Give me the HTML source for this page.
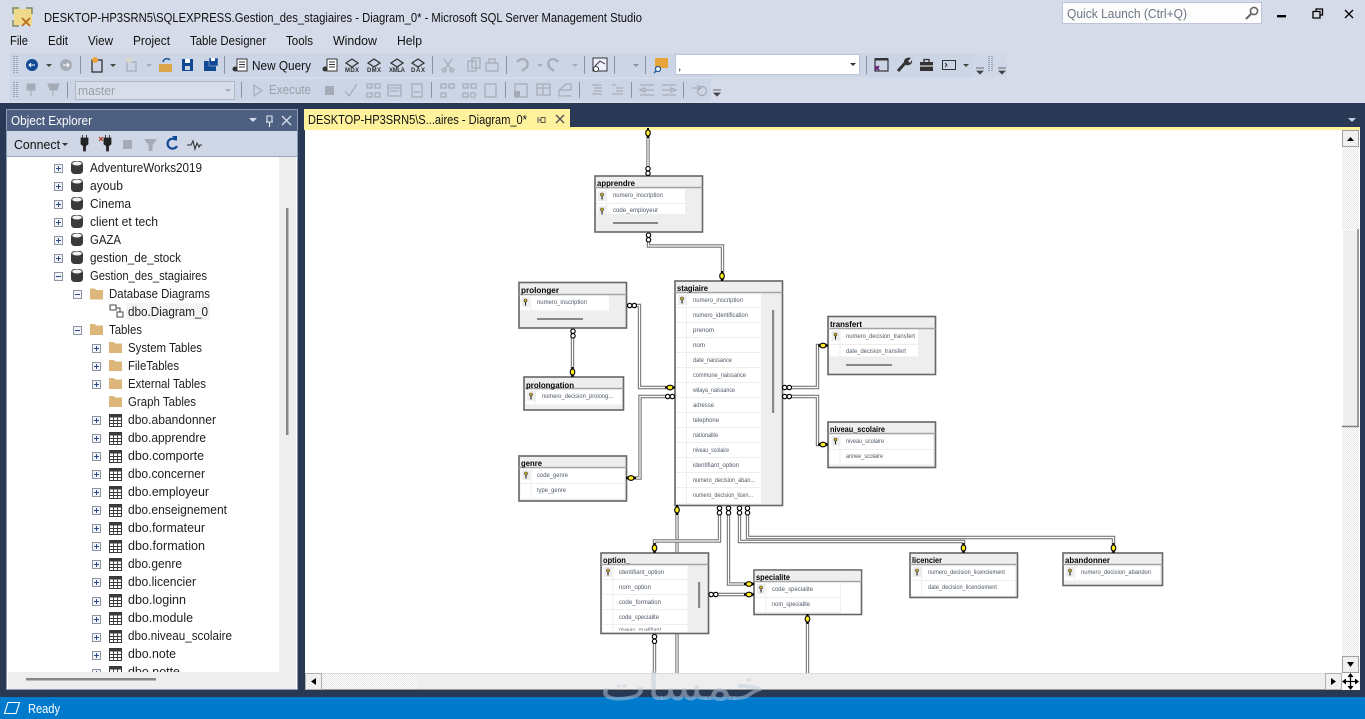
<!DOCTYPE html>
<html><head><meta charset="utf-8"><style>
html,body{margin:0;padding:0;background:#d6dbe9;overflow:hidden}
svg{display:block;font-family:"Liberation Sans",sans-serif}
.u{font-size:12.5px;fill:#1e1e1e}
.g{font-size:12.5px;fill:#9aa0aa}
.t{font-size:12.5px;fill:#111}
.h{font-size:8.5px;font-weight:bold;fill:#000}
.c{font-size:6.6px;fill:#4f5a66}
.r{fill:#fff}
.o{fill:none;stroke:#777;stroke-width:3.4}
.i{fill:none;stroke:#fff;stroke-width:1.2}
.tb{stroke:#666;stroke-width:1.6}
.hs{stroke:#a4a4a4;stroke-width:1.4}
.sep{stroke:#8a93a5;stroke-width:1}
.ic{fill:none;stroke:#a8adb8;stroke-width:1.3}
.id{fill:none;stroke:#333;stroke-width:1.3}
</style></head><body>
<svg width="1365" height="719" viewBox="0 0 1365 719" xmlns="http://www.w3.org/2000/svg">
<defs>
<clipPath id="tree"><rect x="8" y="159" width="271" height="513"/></clipPath>
<clipPath id="optclip"><rect x="602" y="625" width="86" height="5.500"/></clipPath>
<g id="pl"><rect x="-3.500" y="-3.500" width="8" height="8" fill="#f3f4f8" stroke="#8d94a3"/><path d="M-2 .5H3M.5 -2V3" stroke="#2c4a86" stroke-width="1"/></g>
<g id="mi"><rect x="-3.500" y="-3.500" width="8" height="8" fill="#f3f4f8" stroke="#8d94a3"/><path d="M-2 .5H3" stroke="#2c4a86" stroke-width="1"/></g>
<g id="db"><rect x="0" y="-6.500" width="12" height="13" rx="3.500" fill="#3a3a3a"/><ellipse cx="6" cy="-4" rx="4.800" ry="2" fill="#f1f1f1"/></g>
<g id="fo"><path d="M0-5.500H5L6-4H13V5.500H0Z" fill="#dcb67a"/></g>
<g id="tbl"><rect x=".5" y="-5.500" width="12" height="12" fill="#fff" stroke="#3a3a3a"/><rect x="0" y="-6" width="13" height="3.500" fill="#3a3a3a"/><path d="M4.500 -3V6M8.500 -3V6M0 0.500H13M0 3.500H13" stroke="#3a3a3a" stroke-width=".9"/></g>
<g id="kk"><rect x="-4" y="-5" width="8" height="10" fill="#ededed"/><circle cx="0" cy="-1.500" r="1.500" fill="#e8b820" stroke="#222" stroke-width=".6"/><path d="M0 0V3.500" stroke="#222" stroke-width="1.100"/></g>
<g id="inf"><circle cx="-2.300" cy="0" r="2.200" fill="#fff" stroke="#000" stroke-width="1.100"/><circle cx="2.300" cy="0" r="2.200" fill="#fff" stroke="#000" stroke-width="1.100"/></g>
<g id="key"><ellipse cx="0" cy="0" rx="3" ry="2.300" fill="#ffee22" stroke="#000" stroke-width="1.100"/><path d="M3 0H5M-5 0H-3" stroke="#000" stroke-width="2"/></g>
<pattern id="dith" width="2" height="2" patternUnits="userSpaceOnUse"><rect width="2" height="2" fill="#fff"/><rect width="1" height="1" fill="#e6e6e6"/><rect x="1" y="1" width="1" height="1" fill="#e6e6e6"/></pattern>
</defs>

<rect width="1365" height="719" fill="#d6dbe9"/>

<!-- title bar -->
<rect x="14" y="9" width="18" height="16" fill="#efd98a"/><path d="M13 14V8H19M26 8H32V14M13 20V26H19" fill="none" stroke="#6b7a40" stroke-width="1.200"/><path d="M22 18L30 26M30 18L22 26" stroke="#b86a20" stroke-width="1.600"/>
<text x="44" y="22" class="t" textLength="598" lengthAdjust="spacingAndGlyphs">DESKTOP-HP3SRN5\SQLEXPRESS.Gestion_des_stagiaires - Diagram_0* - Microsoft SQL Server Management Studio</text>
<rect x="1062.500" y="2.500" width="199" height="21" fill="#fdfdfe" stroke="#bcc5d8"/>
<text x="1067" y="18" font-size="12.500" fill="#6d7480" textLength="120" lengthAdjust="spacingAndGlyphs">Quick Launch (Ctrl+Q)</text>
<circle cx="1254" cy="11" r="3.600" fill="none" stroke="#666" stroke-width="1.600"/><path d="M1251 14L1246 19" stroke="#666" stroke-width="2"/>
<rect x="1277" y="15" width="9" height="2.400" fill="#000"/>
<path d="M1313 11.500H1320V18H1313ZM1316 11V9H1322.500V15H1320" fill="none" stroke="#000" stroke-width="1.300"/>
<path d="M1345 10L1353 18M1353 10L1345 18" stroke="#000" stroke-width="1.300"/>

<!-- menu -->
<text x="10" y="45" class="t" textLength="18" lengthAdjust="spacingAndGlyphs">File</text>
<text x="48" y="45" class="t" textLength="20" lengthAdjust="spacingAndGlyphs">Edit</text>
<text x="88" y="45" class="t" textLength="25" lengthAdjust="spacingAndGlyphs">View</text>
<text x="133" y="45" class="t" textLength="37" lengthAdjust="spacingAndGlyphs">Project</text>
<text x="190" y="45" class="t" textLength="76" lengthAdjust="spacingAndGlyphs">Table Designer</text>
<text x="286" y="45" class="t" textLength="27" lengthAdjust="spacingAndGlyphs">Tools</text>
<text x="333" y="45" class="t" textLength="44" lengthAdjust="spacingAndGlyphs">Window</text>
<text x="397" y="45" class="t" textLength="25" lengthAdjust="spacingAndGlyphs">Help</text>

<!-- toolbars -->
<rect x="10" y="53" width="963" height="24" fill="#ccd5e6"/>
<rect x="973" y="53" width="34" height="24" fill="#d0d8e8"/>
<rect x="10" y="79" width="701" height="22" fill="#ccd5e6"/>
<path d="M14 56V74M17 56V74M14 82V98M17 82V98M989 56V72M992 56V72" stroke="#8a93a5" stroke-width="1.500" stroke-dasharray="1 1"/>
<path d="M998 68H1006M999 71H1005L1002 74Z" fill="#444" stroke="#444" stroke-width=".8"/>
<path d="M976 68H984M977 71H983L980 74Z" fill="#444" stroke="#444" stroke-width=".8"/>
<path d="M713 90H721M714 93H720L717 96Z" fill="#444" stroke="#444" stroke-width=".8"/>
<circle cx="32" cy="65" r="6" fill="#114a94"/><path d="M35 65H29M31 63L29 65L31 67" stroke="#fff" fill="none"/>
<path d="M46 64H52L49 67Z" fill="#444"/>
<circle cx="66" cy="65" r="6" fill="#a7adb9"/><path d="M63 65H69M67 63L69 65L67 67" stroke="#fff" fill="none"/>
<path d="M80.500 56V74M224.500 56V74M432.500 56V74M506.500 56V74M584.500 56V74M614.500 56V74M645.500 56V74M866.500 56V74" class="sep"/>
<rect x="92" y="60" width="10" height="12" class="id"/><circle cx="95" cy="60" r="3" fill="#e8a33a"/>
<path d="M110 64H116L113 67Z" fill="#444"/>
<rect x="127" y="62" width="9" height="9" class="ic"/><circle cx="129" cy="60" r="3" fill="#d8d8c8"/>
<path d="M146 64H152L149 67Z" fill="#a5abb6"/>
<path d="M159 64H172V72H159Z" fill="#dba64c"/><path d="M163 62C164 58 168 58 170 60" fill="none" stroke="#1f5c9c" stroke-width="1.600"/>
<path d="M182 59H193V71H182Z" fill="#114a94"/><rect x="185" y="59" width="5" height="4" fill="#fff"/><rect x="185" y="66" width="5" height="4" fill="#ccd5e6"/>
<path d="M204 61H216V71H204Z" fill="#114a94"/><path d="M209 58H218V66H209Z" fill="#114a94" stroke="#ccd5e6" stroke-width=".5"/><rect x="211" y="58" width="4" height="3" fill="#fff"/>
<rect x="237" y="59" width="10" height="12" fill="#fff" stroke="#333"/><path d="M239 62H245M239 64.500H245M239 67H245" stroke="#333"/><circle cx="235" cy="69" r="2.500" fill="#333"/>
<text x="252" y="70" class="t" textLength="59" lengthAdjust="spacingAndGlyphs">New Query</text>
<rect x="327" y="59" width="10" height="12" fill="#fff" stroke="#333"/><path d="M329 62H335M329 64.500H335M329 67H335" stroke="#333"/><circle cx="325" cy="69" r="2.500" fill="#333"/>
<path d="M346 63L352 59L358 63L352 67Z" class="id"/><text x="345" y="72" font-size="6" font-weight="bold" fill="#333" textLength="14">MDX</text>
<path d="M368 63L374 59L380 63L374 67Z" class="id"/><text x="367" y="72" font-size="6" font-weight="bold" fill="#333" textLength="14">DMX</text>
<path d="M391 63L397 59L403 63L397 67Z" class="id"/><text x="389" y="72" font-size="6" font-weight="bold" fill="#333" textLength="16">XMLA</text>
<path d="M412 63L418 59L424 63L418 67Z" class="id"/><text x="411" y="72" font-size="6" font-weight="bold" fill="#333" textLength="14">DAX</text>
<path d="M444 59L452 71M452 59L444 71" class="ic"/><circle cx="444" cy="70" r="2" class="ic"/><circle cx="452" cy="70" r="2" class="ic"/>
<rect x="468" y="61" width="8" height="10" class="ic"/><rect x="472" y="58" width="8" height="10" class="ic"/>
<rect x="486" y="63" width="12" height="8" class="ic"/><path d="M489 63V59H495V63" class="ic"/>
<path d="M517 62C522 56 530 60 527 67L522 71" fill="none" stroke="#a8adb8" stroke-width="2.400"/>
<path d="M537 64H543L540 67Z" fill="#a5abb6"/>
<path d="M558 62C553 56 546 60 549 67L554 71" fill="none" stroke="#a8adb8" stroke-width="2.400"/>
<path d="M572 64H578L575 67Z" fill="#a5abb6"/>
<rect x="593" y="58" width="14" height="13" fill="#eef" stroke="#333"/><path d="M595 66L600 61L605 64" fill="none" stroke="#333"/><circle cx="596" cy="69" r="2.500" fill="#fff" stroke="#333"/>
<path d="M633 64H639L636 67Z" fill="#8a8f98"/>
<rect x="655" y="58" width="13" height="10" fill="#e8a33a"/><circle cx="658" cy="69" r="2.500" fill="#fff" stroke="#1f5c9c" stroke-width="1.300"/><path d="M656 71L654 73" stroke="#1f5c9c" stroke-width="1.500"/>
<rect x="675.500" y="54.500" width="184" height="20" fill="#fff" stroke="#bcc5d8"/>
<text x="678" y="70" font-size="12" fill="#333">,</text>
<path d="M850 63H856L853 66Z" fill="#333"/>
<rect x="875" y="59" width="13" height="12" fill="none" stroke="#333" stroke-width="1.200"/><path d="M875 66L879 70M875 70L879 66" stroke="#68217a" stroke-width="1.800"/><rect x="875" y="58" width="13" height="2.500" fill="#333"/>
<path d="M898 71L906 62" stroke="#333" stroke-width="3"/><path d="M904 62C904 58 908 57 911 58L908 61L910 63L912 60C913 64 909 66 906 65Z" fill="#333"/>
<rect x="920" y="62" width="13" height="9" fill="#333"/><path d="M924 62V59.500H929V62" fill="none" stroke="#333" stroke-width="1.300"/><path d="M920 66H933" stroke="#fff"/>
<rect x="942.500" y="60.500" width="13" height="9" fill="none" stroke="#333"/><path d="M945 63L947 65L945 67" fill="none" stroke="#333"/>
<path d="M963 64H969L966 67Z" fill="#444"/>

<!-- toolbar row 2 -->
<path d="M31 84V96M27 84H35V90H27Z" fill="#a5abb6" stroke="#a5abb6"/>
<path d="M53 84V96M48 84L59 84L57 90H50Z" fill="#a5abb6" stroke="#a5abb6"/>
<path d="M67.500 82V98M241.500 82V98M431.500 82V98M505.500 82V98M579.500 82V98M631.500 82V98M683.500 82V98" class="sep"/>
<rect x="75.500" y="81.500" width="159" height="18" fill="#d7dde9" stroke="#b0b7c6"/>
<text x="78" y="95" class="g" textLength="37" lengthAdjust="spacingAndGlyphs">master</text>
<path d="M225 89H231L228 92Z" fill="#a5abb6"/>
<path d="M254 85L262 90.500L254 96Z" class="ic"/>
<text x="269" y="94" class="g" textLength="42" lengthAdjust="spacingAndGlyphs">Execute</text>
<rect x="325" y="86" width="9" height="9" fill="#a5abb6"/>
<path d="M345 91L349 96L357 84" class="ic" stroke-width="2.400"/>
<rect x="367" y="84" width="5" height="4" class="ic"/><rect x="375" y="84" width="5" height="4" class="ic"/><rect x="367" y="93" width="5" height="4" class="ic"/><rect x="375" y="93" width="5" height="4" class="ic"/>
<rect x="388" y="85" width="13" height="11" class="ic"/><path d="M388 88H401M390 91H399" class="ic"/>
<rect x="412" y="84" width="10" height="13" class="ic"/><path d="M414 92H420" class="ic"/>
<rect x="441" y="84" width="5" height="4" class="ic"/><rect x="449" y="84" width="5" height="4" class="ic"/><rect x="441" y="93" width="5" height="4" class="ic"/>
<rect x="463" y="84" width="5" height="4" class="ic"/><rect x="471" y="84" width="5" height="4" class="ic"/><rect x="463" y="93" width="5" height="4" class="ic"/><circle cx="473" cy="95" r="2.500" class="ic"/>
<rect x="485" y="84" width="11" height="13" class="ic"/>
<rect x="515" y="84" width="12" height="13" class="ic"/><rect x="514" y="91" width="6" height="6" fill="#a5abb6"/>
<rect x="537" y="84" width="13" height="11" class="ic"/><path d="M537 88H550M543 84V95" class="ic"/>
<path d="M559 90H571V84H566L559 90V96H571" class="ic"/>
<path d="M592 85H602M594 88H602M594 91H602M592 94H602" class="ic"/>
<path d="M612 85H616M616 88H623M616 91H623M612 94H623" class="ic"/>
<path d="M640 85H654M646 90H654M640 95H654M640 90L645 88V92Z" class="ic"/>
<path d="M662 85H676M662 90H670M662 95H676M676 90L671 88V92Z" class="ic"/>
<path d="M692 88H700M697 85L701 88L697 91" class="ic"/><circle cx="702" cy="91" r="4.500" class="ic"/>

<!-- dark workspace -->
<rect x="0" y="103" width="1365" height="594" fill="#293955"/>

<!-- Object explorer -->
<rect x="6.500" y="109.500" width="291" height="580" fill="#fff" stroke="#8a9bb8"/>
<rect x="7" y="110" width="290" height="21" fill="#4d6082"/>
<text x="11" y="125" font-size="12.500" fill="#fff" textLength="81" lengthAdjust="spacingAndGlyphs">Object Explorer</text>
<path d="M249 118H257L253 122Z" fill="#d5dbe8"/>
<path d="M267 116H272V122H267ZM266 122H273M269.500 122V127" fill="none" stroke="#e8ecf3" stroke-width="1.100"/>
<path d="M282 116L291 125M291 116L282 125" stroke="#d5dbe8" stroke-width="1.400"/>
<rect x="7" y="131" width="290" height="26" fill="#cfd6e5"/>
<rect x="7" y="156" width="290" height="1" fill="#9aa5ba"/>
<text x="14" y="149" class="t" textLength="46" lengthAdjust="spacingAndGlyphs">Connect</text>
<path d="M62 143H68L65 146Z" fill="#333"/>
<path d="M81 138H88V144L85.500 146V151H83.500V146L81 144ZM82.500 138V135M86.500 138V135" fill="#222" stroke="#222" stroke-width=".8"/>
<path d="M104 138H111V144L108.500 146V151H106.500V146L104 144ZM105.500 138V135M109.500 138V135" fill="#222" stroke="#222" stroke-width=".8"/>
<path d="M99 137L103 141M103 137L99 141" stroke="#b03a20" stroke-width="1.200"/>
<rect x="123" y="140" width="9" height="9" fill="#a5abb6"/>
<path d="M144 139H157L152.500 145V151H148.500V145Z" fill="#a5abb6"/>
<path d="M176 140A5 5 0 1 0 177 146" fill="none" stroke="#114a94" stroke-width="2.200"/><path d="M172 136L177 136L177 141Z" fill="#114a94"/>
<path d="M187 145H191L193 141L195 149L197 143L199 147L200 145H202" fill="none" stroke="#333" stroke-width="1.100"/>

<rect x="279" y="157" width="17" height="532" fill="#eeeeef"/>
<rect x="286" y="208" width="2.500" height="227" fill="#888"/>
<rect x="8" y="672" width="288" height="17" fill="#eeeeef"/>
<rect x="26" y="678" width="130" height="2.500" fill="#888"/>

<g clip-path="url(#tree)">
<rect x="126" y="303" width="84" height="17" fill="#f4f4f5"/>
<use href="#pl" x="58" y="168"/><use href="#db" x="71" y="167.500"/><text x="90" y="172" class="u" textLength="112" lengthAdjust="spacingAndGlyphs">AdventureWorks2019</text>
<use href="#pl" x="58" y="186"/><use href="#db" x="71" y="185.500"/><text x="90" y="190" class="u" textLength="33" lengthAdjust="spacingAndGlyphs">ayoub</text>
<use href="#pl" x="58" y="204"/><use href="#db" x="71" y="203.500"/><text x="90" y="208" class="u" textLength="41" lengthAdjust="spacingAndGlyphs">Cinema</text>
<use href="#pl" x="58" y="222"/><use href="#db" x="71" y="221.500"/><text x="90" y="226" class="u" textLength="68" lengthAdjust="spacingAndGlyphs">client et tech</text>
<use href="#pl" x="58" y="240"/><use href="#db" x="71" y="239.500"/><text x="90" y="244" class="u" textLength="31" lengthAdjust="spacingAndGlyphs">GAZA</text>
<use href="#pl" x="58" y="258"/><use href="#db" x="71" y="257.500"/><text x="90" y="262" class="u" textLength="91" lengthAdjust="spacingAndGlyphs">gestion_de_stock</text>
<use href="#mi" x="58" y="276"/><use href="#db" x="71" y="275.500"/><text x="90" y="280" class="u" textLength="117" lengthAdjust="spacingAndGlyphs">Gestion_des_stagiaires</text>
<use href="#mi" x="77" y="294"/><use href="#fo" x="90" y="294"/><text x="109" y="298" class="u" textLength="101" lengthAdjust="spacingAndGlyphs">Database Diagrams</text>
<rect x="110" y="305" width="6" height="5" fill="none" stroke="#444"/><rect x="117" y="312" width="6" height="5" fill="none" stroke="#444"/><path d="M116 308H120V312" fill="none" stroke="#444"/><text x="128" y="316" class="u" textLength="80" lengthAdjust="spacingAndGlyphs">dbo.Diagram_0</text>
<use href="#mi" x="77" y="330"/><use href="#fo" x="90" y="329.500"/><text x="109" y="334" class="u" textLength="33" lengthAdjust="spacingAndGlyphs">Tables</text>
<use href="#pl" x="96" y="348"/><use href="#fo" x="109" y="347.500"/><text x="128" y="352" class="u" textLength="74" lengthAdjust="spacingAndGlyphs">System Tables</text>
<use href="#pl" x="96" y="366"/><use href="#fo" x="109" y="365.500"/><text x="128" y="370" class="u" textLength="51" lengthAdjust="spacingAndGlyphs">FileTables</text>
<use href="#pl" x="96" y="384"/><use href="#fo" x="109" y="383.500"/><text x="128" y="388" class="u" textLength="78" lengthAdjust="spacingAndGlyphs">External Tables</text>
<use href="#fo" x="109" y="401.500"/><text x="128" y="406" class="u" textLength="68" lengthAdjust="spacingAndGlyphs">Graph Tables</text>
<use href="#pl" x="96" y="420"/><use href="#tbl" x="109" y="420"/><text x="128" y="424" class="u" textLength="88" lengthAdjust="spacingAndGlyphs">dbo.abandonner</text>
<use href="#pl" x="96" y="438"/><use href="#tbl" x="109" y="438"/><text x="128" y="442" class="u" textLength="78" lengthAdjust="spacingAndGlyphs">dbo.apprendre</text>
<use href="#pl" x="96" y="456"/><use href="#tbl" x="109" y="456"/><text x="128" y="460" class="u" textLength="76" lengthAdjust="spacingAndGlyphs">dbo.comporte</text>
<use href="#pl" x="96" y="474"/><use href="#tbl" x="109" y="474"/><text x="128" y="478" class="u" textLength="77" lengthAdjust="spacingAndGlyphs">dbo.concerner</text>
<use href="#pl" x="96" y="492"/><use href="#tbl" x="109" y="492"/><text x="128" y="496" class="u" textLength="81" lengthAdjust="spacingAndGlyphs">dbo.employeur</text>
<use href="#pl" x="96" y="510"/><use href="#tbl" x="109" y="510"/><text x="128" y="514" class="u" textLength="99" lengthAdjust="spacingAndGlyphs">dbo.enseignement</text>
<use href="#pl" x="96" y="528"/><use href="#tbl" x="109" y="528"/><text x="128" y="532" class="u" textLength="77" lengthAdjust="spacingAndGlyphs">dbo.formateur</text>
<use href="#pl" x="96" y="546"/><use href="#tbl" x="109" y="546"/><text x="128" y="550" class="u" textLength="77" lengthAdjust="spacingAndGlyphs">dbo.formation</text>
<use href="#pl" x="96" y="564"/><use href="#tbl" x="109" y="564"/><text x="128" y="568" class="u" textLength="54" lengthAdjust="spacingAndGlyphs">dbo.genre</text>
<use href="#pl" x="96" y="582"/><use href="#tbl" x="109" y="582"/><text x="128" y="586" class="u" textLength="68" lengthAdjust="spacingAndGlyphs">dbo.licencier</text>
<use href="#pl" x="96" y="601"/><use href="#tbl" x="109" y="600"/><text x="128" y="604" class="u" textLength="58" lengthAdjust="spacingAndGlyphs">dbo.loginn</text>
<use href="#pl" x="96" y="619"/><use href="#tbl" x="109" y="618"/><text x="128" y="622" class="u" textLength="65" lengthAdjust="spacingAndGlyphs">dbo.module</text>
<use href="#pl" x="96" y="637"/><use href="#tbl" x="109" y="636"/><text x="128" y="640" class="u" textLength="104" lengthAdjust="spacingAndGlyphs">dbo.niveau_scolaire</text>
<use href="#pl" x="96" y="655"/><use href="#tbl" x="109" y="654"/><text x="128" y="658" class="u" textLength="48" lengthAdjust="spacingAndGlyphs">dbo.note</text>
<use href="#pl" x="96" y="673"/><use href="#tbl" x="109" y="672"/><text x="128" y="676" class="u" textLength="52" lengthAdjust="spacingAndGlyphs">dbo.notte</text>
</g>

<!-- tab -->
<rect x="304" y="109" width="266" height="19" fill="#fff29d"/>
<rect x="304" y="127" width="1056" height="3" fill="#fff29d"/>
<text x="308" y="124" class="t" textLength="219" lengthAdjust="spacingAndGlyphs">DESKTOP-HP3SRN5\S...aires - Diagram_0*</text>
<path d="M538 117V123M538 120H541M541 117.500H545V122.500H541Z" fill="none" stroke="#555"/>
<path d="M556 115L564 123M564 115L556 123" stroke="#555" stroke-width="1.400"/>
<path d="M1348 118H1356L1352 122Z" fill="#c8d0de"/>

<!-- diagram area -->
<rect x="305" y="130" width="1055" height="560" fill="#fff"/>

<!-- connectors -->
<path class="o" d="M648 130V176"/><path class="i" d="M648 130V176"/>
<path class="o" d="M648.500 232V246H722.500V281"/><path class="i" d="M648.500 232V246H722.500V281"/>
<path class="o" d="M572.500 328V377"/><path class="i" d="M572.500 328V377"/>
<path class="o" d="M627 305.500H639.500V387.500H676"/><path class="i" d="M627 305.500H639.500V387.500H676"/>
<path class="o" d="M627 478H640V396.500H676"/><path class="i" d="M627 478H640V396.500H676"/>
<path class="o" d="M782 387.500H817.500V345.500H828"/><path class="i" d="M782 387.500H817.500V345.500H828"/>
<path class="o" d="M782 396.500H817.500V444.500H828"/><path class="i" d="M782 396.500H817.500V444.500H828"/>
<path class="o" d="M677 505V673"/><path class="i" d="M677 505V673"/>
<path class="o" d="M719.500 505V541H654.500V553"/><path class="i" d="M719.500 505V541H654.500V553"/>
<path class="o" d="M728.500 505V584H754"/><path class="i" d="M728.500 505V584H754"/>
<path class="o" d="M739.500 505V541.500H963.500V553"/><path class="i" d="M739.500 505V541.500H963.500V553"/>
<path class="o" d="M747.500 505V537.500H1113.500V553"/><path class="i" d="M747.500 505V537.500H1113.500V553"/>
<path class="o" d="M709 594.500H754"/><path class="i" d="M709 594.500H754"/>
<path class="o" d="M654.500 633V673"/><path class="i" d="M654.500 633V673"/>
<path class="o" d="M807.500 614V673"/><path class="i" d="M807.500 614V673"/>

<!-- table: apprendre -->
<rect x="595" y="176" width="107.500" height="56" fill="#eee" class="tb"/>
<path d="M595 187.500H702.500" class="hs"/>
<text x="597" y="186" class="h" textLength="38" lengthAdjust="spacingAndGlyphs">apprendre</text>
<rect x="597" y="189" width="88" height="25" class="r"/><path d="M597 203.500H685M606.500 189V214" stroke="#eee"/>
<use href="#kk" x="602" y="196"/><use href="#kk" x="602" y="211"/>
<text x="613" y="197" class="c" textLength="50" lengthAdjust="spacingAndGlyphs">numero_inscription</text>
<text x="613" y="212" class="c" textLength="45" lengthAdjust="spacingAndGlyphs">code_employeur</text>
<rect x="613" y="222" width="45" height="2" fill="#888"/>

<!-- table: prolonger -->
<rect x="519" y="282.500" width="107.500" height="45.500" fill="#eee" class="tb"/>
<path d="M519 294.500H626.500" class="hs"/>
<text x="521" y="293" class="h" textLength="38" lengthAdjust="spacingAndGlyphs">prolonger</text>
<rect x="520" y="295.500" width="89" height="15" class="r"/><path d="M530.500 295.500V310" stroke="#eee"/>
<use href="#kk" x="525.500" y="302"/>
<text x="537" y="304" class="c" textLength="50" lengthAdjust="spacingAndGlyphs">numero_inscription</text>
<rect x="537" y="318" width="46" height="2" fill="#888"/>

<!-- table: stagiaire -->
<rect x="675" y="281" width="107.500" height="224.500" fill="#eee" class="tb"/>
<path d="M675 292.500H782.500" class="hs"/>
<text x="677" y="291" class="h" textLength="31" lengthAdjust="spacingAndGlyphs">stagiaire</text>
<rect x="676" y="293.500" width="85" height="210" class="r"/>
<path d="M676 307.500H761M676 322.500H761M676 337.500H761M676 352.500H761M676 367.500H761M676 382.500H761M676 397.500H761M676 412.500H761M676 427.500H761M676 442.500H761M676 457.500H761M676 472.500H761M676 487.500H761M686.500 293.500V503" stroke="#eee"/>
<use href="#kk" x="682" y="300"/>
<text x="693" y="302" class="c" textLength="50" lengthAdjust="spacingAndGlyphs">numero_inscription</text>
<text x="693" y="317" class="c" textLength="55" lengthAdjust="spacingAndGlyphs">numero_identification</text>
<text x="693" y="332" class="c" textLength="21" lengthAdjust="spacingAndGlyphs">prenom</text>
<text x="693" y="347" class="c" textLength="12" lengthAdjust="spacingAndGlyphs">nom</text>
<text x="693" y="362" class="c" textLength="39" lengthAdjust="spacingAndGlyphs">date_naissance</text>
<text x="693" y="377" class="c" textLength="53" lengthAdjust="spacingAndGlyphs">commune_naissance</text>
<text x="693" y="392" class="c" textLength="42" lengthAdjust="spacingAndGlyphs">wilaya_naissance</text>
<text x="693" y="407" class="c" textLength="21" lengthAdjust="spacingAndGlyphs">adresse</text>
<text x="693" y="422" class="c" textLength="26" lengthAdjust="spacingAndGlyphs">telephone</text>
<text x="693" y="437" class="c" textLength="25" lengthAdjust="spacingAndGlyphs">nationalite</text>
<text x="693" y="452" class="c" textLength="36" lengthAdjust="spacingAndGlyphs">niveau_scolaire</text>
<text x="693" y="467" class="c" textLength="46" lengthAdjust="spacingAndGlyphs">identifiant_option</text>
<text x="693" y="482" class="c" textLength="62" lengthAdjust="spacingAndGlyphs">numero_decision_aban...</text>
<text x="693" y="497" class="c" textLength="60" lengthAdjust="spacingAndGlyphs">numero_decision_licen...</text>
<rect x="772" y="310" width="2.200" height="103" fill="#888"/>

<!-- table: prolongation -->
<rect x="524" y="377" width="99.500" height="33" fill="#eee" class="tb"/>
<path d="M524 388.500H623.500" class="hs"/>
<text x="526" y="388" class="h" textLength="48" lengthAdjust="spacingAndGlyphs">prolongation</text>
<rect x="525.500" y="389.500" width="96" height="15" class="r"/><path d="M535.500 389.500V404" stroke="#eee"/>
<use href="#kk" x="531" y="396"/>
<text x="542" y="398" class="c" textLength="71" lengthAdjust="spacingAndGlyphs">numero_decision_prolong...</text>

<!-- table: genre -->
<rect x="519" y="456" width="107.500" height="45" fill="#eee" class="tb"/>
<path d="M519 467.500H626.500" class="hs"/>
<text x="521" y="466" class="h" textLength="21" lengthAdjust="spacingAndGlyphs">genre</text>
<rect x="520.500" y="468.500" width="104" height="30" class="r"/><path d="M520 483.500H625M531 468.500V498" stroke="#eee"/>
<use href="#kk" x="526" y="475"/>
<text x="537" y="477" class="c" textLength="31" lengthAdjust="spacingAndGlyphs">code_genre</text>
<text x="537" y="492" class="c" textLength="29" lengthAdjust="spacingAndGlyphs">type_genre</text>

<!-- table: transfert -->
<rect x="828" y="316.500" width="107.500" height="58" fill="#eee" class="tb"/>
<path d="M828 328.500H935.500" class="hs"/>
<text x="830" y="327" class="h" textLength="32" lengthAdjust="spacingAndGlyphs">transfert</text>
<rect x="829.500" y="329.500" width="88.500" height="27" class="r"/><path d="M829 344.500H918M840 329.500V356" stroke="#eee"/>
<use href="#kk" x="835.500" y="336"/>
<text x="846" y="338" class="c" textLength="69" lengthAdjust="spacingAndGlyphs">numero_decision_transfert</text>
<text x="846" y="353" class="c" textLength="60" lengthAdjust="spacingAndGlyphs">date_decision_transfert</text>
<rect x="846" y="364" width="46" height="2" fill="#888"/>

<!-- table: niveau_scolaire -->
<rect x="828" y="422" width="107.500" height="45.500" fill="#eee" class="tb"/>
<path d="M828 433.500H935.500" class="hs"/>
<text x="830" y="432" class="h" textLength="55" lengthAdjust="spacingAndGlyphs">niveau_scolaire</text>
<rect x="829.500" y="434.500" width="103.500" height="30" class="r"/><path d="M829 449.500H933M840 434.500V464" stroke="#eee"/>
<use href="#kk" x="835.500" y="441"/>
<text x="846" y="443" class="c" textLength="38" lengthAdjust="spacingAndGlyphs">niveau_scolaire</text>
<text x="846" y="458" class="c" textLength="37" lengthAdjust="spacingAndGlyphs">annee_scolaire</text>

<!-- table: option_ -->
<rect x="601" y="553" width="107.500" height="80.500" fill="#eee" class="tb"/>
<path d="M601 564.500H708.500" class="hs"/>
<text x="603" y="563" class="h" textLength="27" lengthAdjust="spacingAndGlyphs">option_</text>
<rect x="602.500" y="565.500" width="85" height="66.500" class="r"/>
<path d="M602 579.500H687.500M602 594.500H687.500M602 609.500H687.500M602 624.500H687.500M613 565.500V632" stroke="#eee"/>
<use href="#kk" x="608" y="572"/>
<text x="619" y="574" class="c" textLength="45" lengthAdjust="spacingAndGlyphs">identifiant_option</text>
<text x="619" y="589" class="c" textLength="32" lengthAdjust="spacingAndGlyphs">nom_option</text>
<text x="619" y="604" class="c" textLength="42" lengthAdjust="spacingAndGlyphs">code_formation</text>
<text x="619" y="619" class="c" textLength="40" lengthAdjust="spacingAndGlyphs">code_specialite</text>
<g clip-path="url(#optclip)"><text x="619" y="632" class="c" textLength="42" lengthAdjust="spacingAndGlyphs">niveau_qualifiant</text></g>
<rect x="698" y="582" width="2.200" height="26" fill="#888"/>

<!-- table: specialite -->
<rect x="754" y="570" width="107.500" height="44.500" fill="#fff" class="tb"/>
<rect x="754.800" y="570.800" width="106" height="10.500" fill="#eee"/>
<path d="M754 581.500H861.500" class="hs"/>
<text x="756" y="580" class="h" textLength="34" lengthAdjust="spacingAndGlyphs">specialite</text>
<path d="M755 597.500H840M766 583V612M840.500 583V612M755 612.500H841" stroke="#eee"/>
<use href="#kk" x="761" y="589"/>
<text x="772" y="591" class="c" textLength="41" lengthAdjust="spacingAndGlyphs">code_specialite</text>
<text x="772" y="606" class="c" textLength="38" lengthAdjust="spacingAndGlyphs">nom_specialite</text>

<!-- table: licencier -->
<rect x="910" y="553" width="107.500" height="44.500" fill="#eee" class="tb"/>
<path d="M910 564.500H1017.500" class="hs"/>
<text x="912" y="563" class="h" textLength="30" lengthAdjust="spacingAndGlyphs">licencier</text>
<rect x="911" y="565.500" width="104" height="30" class="r"/><path d="M911 580.500H1015M921.500 565.500V595" stroke="#eee"/>
<use href="#kk" x="917" y="572"/>
<text x="928" y="574" class="c" textLength="77" lengthAdjust="spacingAndGlyphs">numero_decision_licenciement</text>
<text x="928" y="589" class="c" textLength="69" lengthAdjust="spacingAndGlyphs">date_decision_licenciement</text>

<!-- table: abandonner -->
<rect x="1063" y="553" width="99.500" height="32.500" fill="#eee" class="tb"/>
<path d="M1063 564.500H1162.500" class="hs"/>
<text x="1065" y="563" class="h" textLength="45" lengthAdjust="spacingAndGlyphs">abandonner</text>
<rect x="1064" y="565.500" width="96" height="15" class="r"/><path d="M1075 565.500V580" stroke="#eee"/>
<use href="#kk" x="1070" y="572"/>
<text x="1081" y="574" class="c" textLength="70" lengthAdjust="spacingAndGlyphs">numero_decision_abandon</text>

<!-- connector ends -->
<use href="#key" transform="translate(648 133) rotate(90)"/>
<use href="#inf" transform="translate(648 171) rotate(90)"/>
<use href="#inf" transform="translate(648.500 237.500) rotate(90)"/>
<use href="#key" transform="translate(722 276) rotate(90)"/>
<use href="#inf" transform="translate(573 333.500) rotate(90)"/>
<use href="#key" transform="translate(572.500 372) rotate(90)"/>
<use href="#inf" x="632" y="305.500"/>
<use href="#key" x="670" y="387.500"/>
<use href="#inf" x="670" y="396.500"/>
<use href="#key" x="631" y="478"/>
<use href="#inf" x="787" y="387.500"/>
<use href="#inf" x="787" y="396.500"/>
<use href="#key" x="823" y="345.500"/>
<use href="#key" x="823" y="444.500"/>
<use href="#key" transform="translate(677 510) rotate(90)"/>
<use href="#inf" transform="translate(719.500 510.500) rotate(90)"/>
<use href="#inf" transform="translate(728.500 510.500) rotate(90)"/>
<use href="#inf" transform="translate(739.500 510.500) rotate(90)"/>
<use href="#inf" transform="translate(747.500 510.500) rotate(90)"/>
<use href="#key" transform="translate(654.500 548) rotate(90)"/>
<use href="#key" x="749" y="584"/>
<use href="#key" x="749" y="594.500"/>
<use href="#inf" x="713.500" y="594.500"/>
<use href="#inf" transform="translate(654.500 639) rotate(90)"/>
<use href="#key" transform="translate(807.500 619) rotate(90)"/>
<use href="#key" transform="translate(963.500 548) rotate(90)"/>
<use href="#key" transform="translate(1113.500 548) rotate(90)"/>

<!-- vertical scrollbar -->
<rect x="1342" y="130" width="17" height="543" fill="url(#dith)"/>
<rect x="1342" y="229" width="17" height="198" fill="#efefef"/>
<path d="M1342.500 229V427M1342 229.500H1358" stroke="#fff"/>
<path d="M1358 229V427M1342 426.500H1359" stroke="#808080" stroke-width="1.500"/>
<rect x="1342.500" y="130.500" width="16" height="16" fill="#f0f0f0" stroke="#a0a0a0"/>
<path d="M1347 141H1354L1350.500 137Z" fill="#000"/>
<rect x="1342.500" y="656.500" width="16" height="16" fill="#f0f0f0" stroke="#a0a0a0"/>
<path d="M1347 662H1354L1350.500 667Z" fill="#000"/>

<!-- horizontal scrollbar -->
<rect x="305" y="673" width="1037" height="17" fill="#eee"/>
<rect x="322" y="674" width="95" height="15" fill="url(#dith)"/>
<path d="M305 673.500H1342" stroke="#dcdcdc"/>
<path d="M305 689.500H1342" stroke="#999"/>
<rect x="305.500" y="673.500" width="16" height="16" fill="#f0f0f0" stroke="#b0b0b0"/>
<path d="M316 678V685L311 681.500Z" fill="#000"/>
<rect x="1325.500" y="673.500" width="16" height="16" fill="#f0f0f0" stroke="#b0b0b0"/>
<path d="M1331 678V685L1336 681.500Z" fill="#000"/>
<rect x="1342" y="673" width="17" height="17" fill="#fff"/>
<path d="M1350.500 674V689M1343 681.500H1358" stroke="#000" stroke-width="1.300"/>
<path d="M1350.500 673L1347.500 677H1353.500ZM1350.500 690L1347.500 686H1353.500ZM1342 681.500L1346 678.500V684.500ZM1359 681.500L1355 678.500V684.500Z" fill="#000"/>

<!-- status bar -->
<rect x="0" y="697" width="1365" height="22" fill="#007acc"/>
<path d="M8 702.500H19.500L16 713.500H4.500Z" fill="none" stroke="#fff" stroke-width="1.100"/>
<text x="28" y="713" font-size="12.500" fill="#fff" textLength="32" lengthAdjust="spacingAndGlyphs">Ready</text>

<!-- watermark -->
<text x="765" y="700" font-family="'DejaVu Sans',sans-serif" font-size="40" fill="#c0ccd9" fill-opacity=".5" textLength="165" lengthAdjust="spacingAndGlyphs" direction="rtl" text-anchor="start">خمسات</text>
</svg>
</body></html>
